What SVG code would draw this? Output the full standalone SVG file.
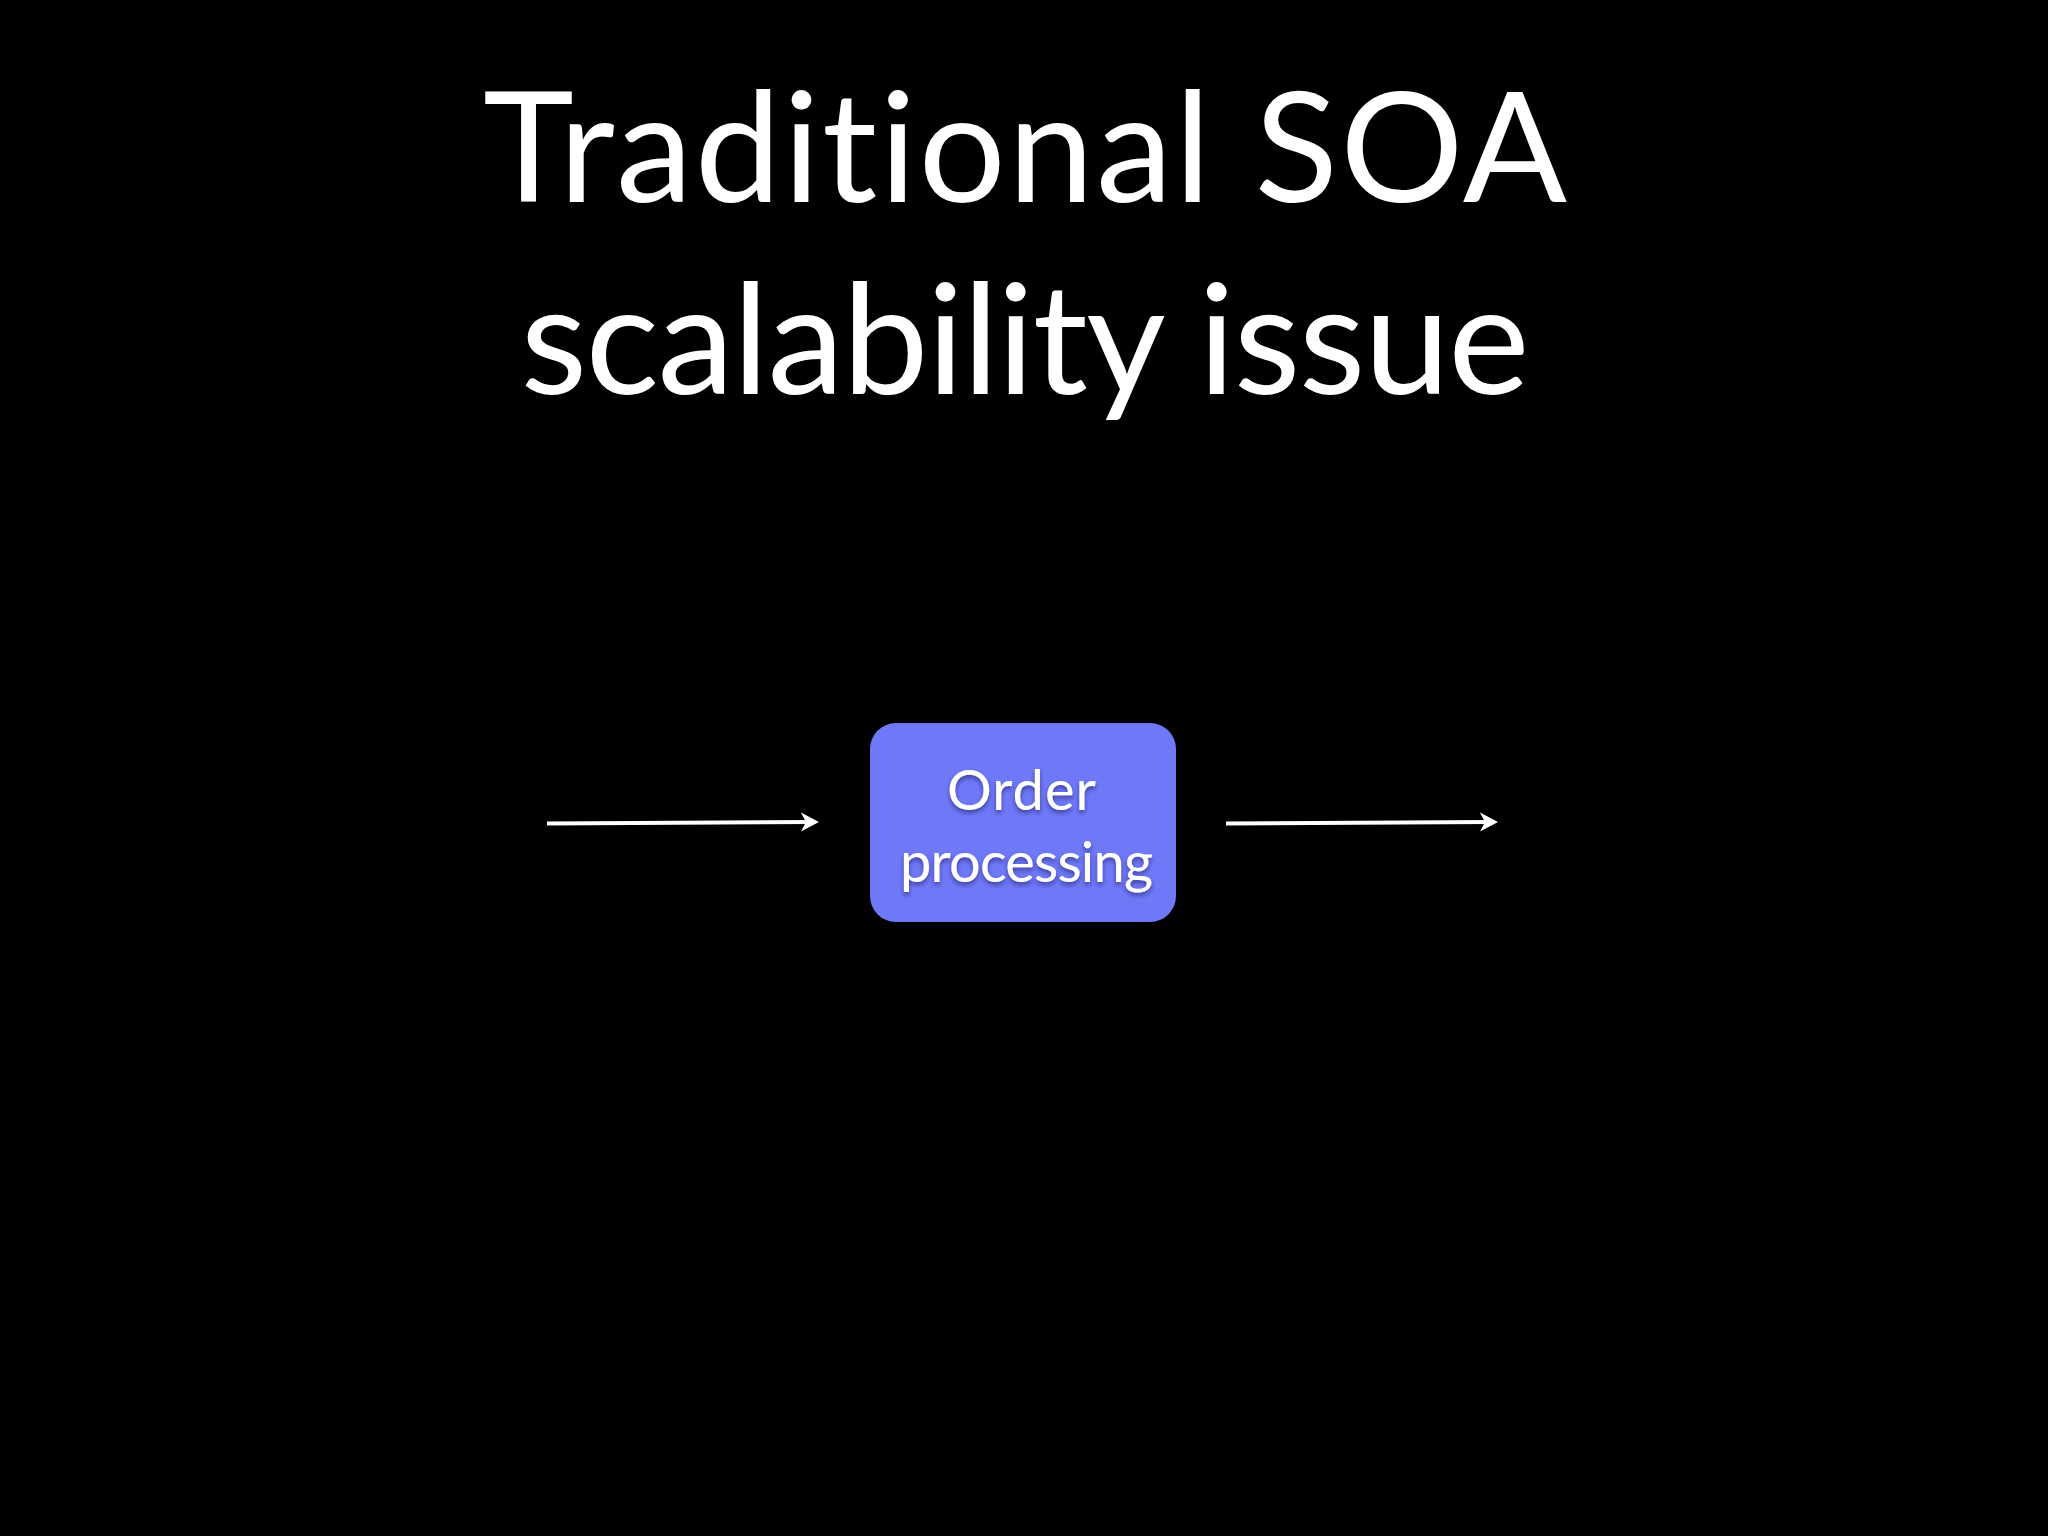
<svg xmlns="http://www.w3.org/2000/svg" width="2048" height="1536" viewBox="0 0 2048 1536">
  <style>
    text { font-variant-ligatures: none; font-feature-settings: "liga" 0, "clig" 0; }
    .title { font-family: Lato, "Open Sans", "Liberation Sans", sans-serif; font-size: 154px; fill: #ffffff; }
    .label { font-family: Lato, "Open Sans", "Liberation Sans", sans-serif; font-size: 56px; fill: #ffffff; filter: url(#shadow); }
    .conn { stroke: #ffffff; stroke-width: 4; fill: none; marker-end: url(#arrow); }
  </style>
  <defs>
    <marker id="arrow" viewBox="0 0 20 20" markerWidth="20" markerHeight="20" refX="9" refY="10" orient="auto" markerUnits="userSpaceOnUse">
      <path d="M0,0.5 L18,10 L0,19.5 L5,10 Z" fill="#ffffff"/>
    </marker>
    <filter id="shadow" x="-20%" y="-30%" width="140%" height="160%">
      <feDropShadow dx="0" dy="3" stdDeviation="2" flood-color="#1a1f60" flood-opacity="0.6"/>
    </filter>
  </defs>
  <rect x="0" y="0" width="2048" height="1536" fill="#000000"/>

  <g id="title">
    <text class="title" x="1025" y="202" text-anchor="middle" textLength="1084">Traditional SOA</text>
    <text class="title" x="1025" y="394" text-anchor="middle" textLength="1009">scalability issue</text>
  </g>

  <g id="connectors">
    <line class="conn" x1="547" y1="823.5" x2="810" y2="822"/>
    <line class="conn" x1="1226" y1="823.5" x2="1489" y2="822"/>
  </g>

  <g id="order-processing">
    <rect x="870" y="723" width="306" height="199" rx="26" ry="26" fill="#6F78F7"/>
    <text class="label" x="1021.5" y="810" text-anchor="middle" textLength="149">Order</text>
    <text class="label" x="1026.5" y="882" text-anchor="middle" textLength="253">processing</text>
  </g>
</svg>
